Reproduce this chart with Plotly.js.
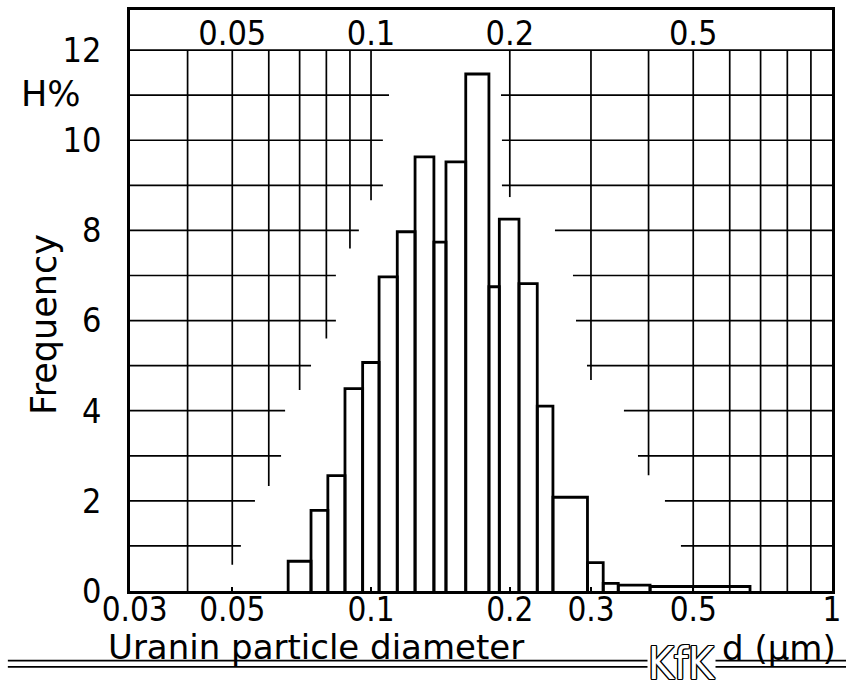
<!DOCTYPE html>
<html>
<head>
<meta charset="utf-8">
<script src="https://cdn.plot.ly/plotly-3.0.1.min.js"></script>
<style>html,body{margin:0;padding:0;background:#fff;}</style>
</head>
<body>
<div id="chart" style="width:846px;height:687px;"></div>
<script>
// Histogram bin edges (µm) and frequencies (%)
var binEdges = [0.0661,0.0741,0.0806,0.0878,0.0959,0.1041,0.1140,0.1246,0.1369,0.1454,0.1605,0.1802,0.1898,0.2094,0.2294,0.2481,0.2948,0.3189,0.3438,0.403,0.664];
var freq = [0.66,1.79,2.56,4.49,5.07,6.97,7.97,9.63,7.74,9.52,11.47,6.75,8.25,6.82,4.10,2.08,0.63,0.17,0.13,0.10];

// Tick labels
var xTickVals = [0.03,0.05,0.1,0.2,0.3,0.5,1];
var xTickText = ['\u00a00.03','0.05','0.1','0.2','0.3','0.5','1'];
var topTickVals = [0.05,0.1,0.2,0.5];
var topTickText = ['0.05','0.1','0.2','0.5'];
var yTickVals = [0,2,4,6,8,10,12];

// Partial grid: vertical lines (from 12 down to given value)
var vGridX = [0.04,0.05,0.06,0.07,0.08,0.09,0.1,0.2,0.3,0.4,0.5,0.6,0.7,0.8,0.9];
var vGridBottom = [0,0.58,2.33,4.46,5.6,7.6,8.67,8.74,4.68,2.57,0,0,0,0,0];
// Horizontal lines: left part ends at hLeftEnd, right part starts at hRightStart
var hGridY = [1,2,3,4,5,6,7,8,9,10,11];
var hLeftEnd = [0.0522,0.0560,0.0638,0.0651,0.0741,0.0839,0.0839,0.0941,0.1061,0.1061,0.1094];
var hRightStart = [0.4702,0.4341,0.3794,0.3537,0.2941,0.2784,0.2742,0.2506,0.1923,0.1923,0.1914];

var xMin = 0.03, xMax = 1, yBand = 12, yTop = 12.89;

var gx = [], gy = [];
for (var i = 0; i < vGridX.length; i++) {
  gx.push(vGridX[i], vGridX[i], null);
  gy.push(yBand, vGridBottom[i], null);
}
for (var j = 0; j < hGridY.length; j++) {
  gx.push(xMin, hLeftEnd[j], null);
  gy.push(hGridY[j], hGridY[j], null);
  gx.push(hRightStart[j], xMax, null);
  gy.push(hGridY[j], hGridY[j], null);
}
gx.push(xMin, xMax, null);
gy.push(yBand, yBand, null);

var bx = [], by = [];
for (var k = 0; k < freq.length; k++) {
  bx.push(binEdges[k], binEdges[k], binEdges[k+1], binEdges[k+1], null);
  by.push(0, freq[k], freq[k], 0, null);
}

var narrow = 'Liberation Sans Narrow, DejaVu Sans Condensed, sans-serif';
var wide = 'DejaVu Sans, sans-serif';

var traces = [
  {x: gx, y: gy, mode: 'lines', line: {color: '#000', width: 1.7}, hoverinfo: 'skip', showlegend: false, cliponaxis: false},
  {x: bx, y: by, mode: 'lines', line: {color: '#000', width: 2.8}, hoverinfo: 'skip', showlegend: false, cliponaxis: false},
  {x: topTickVals, y: topTickVals.map(function(){return 12.3;}), mode: 'text', text: topTickText,
   textfont: {family: narrow, size: 34, color: '#000'}, textposition: 'middle center', hoverinfo: 'skip', showlegend: false}
];

var layout = {
  width: 846, height: 687,
  margin: {l: 130, r: 14, t: 10, b: 96},
  paper_bgcolor: '#fff', plot_bgcolor: '#fff',
  showlegend: false,
  xaxis: {
    type: 'log', range: [Math.log10(xMin), Math.log10(xMax)],
    showgrid: false, zeroline: false,
    showline: true, linecolor: '#000', linewidth: 2.8, mirror: true,
    ticks: 'inside', ticklen: 4, tickwidth: 2, tickcolor: '#000',
    tickvals: xTickVals, ticktext: xTickText,
    tickfont: {family: narrow, size: 33, color: '#000'},
    ticklabelstandoff: -12
  },
  yaxis: {
    range: [0, yTop],
    showgrid: false, zeroline: false,
    showline: true, linecolor: '#000', linewidth: 2.8, mirror: true,
    ticks: '', tickvals: yTickVals,
    tickfont: {family: narrow, size: 34, color: '#000'},
    ticklabelstandoff: 19
  },
  shapes: [
    {type: 'line', xref: 'paper', yref: 'paper', x0: -0.174, x1: 1.02, y0: -0.12, y1: -0.12, line: {color: '#000', width: 1.8}},
    {type: 'line', xref: 'paper', yref: 'paper', x0: -0.174, x1: 1.02, y0: -0.1305, y1: -0.1305, line: {color: '#000', width: 1.8}}
  ],
  annotations: [
    {text: 'H%', xref: 'paper', yref: 'paper', x: -0.1125, y: 0.855, showarrow: false,
     xanchor: 'center', yanchor: 'middle', font: {family: wide, size: 35, color: '#000'}},
    {text: 'Frequency', xref: 'paper', yref: 'paper', x: -0.1225, y: 0.458, showarrow: false, textangle: -90,
     xanchor: 'center', yanchor: 'middle', font: {family: wide, size: 35, color: '#000'}},
    {text: 'Uranin particle diameter', xref: 'paper', yref: 'paper', x: -0.0342, y: -0.097, showarrow: false,
     xanchor: 'left', yanchor: 'middle', font: {family: wide, size: 34, color: '#000'}},
    {text: 'd (μm)', xref: 'paper', yref: 'paper', x: 0.8405, y: -0.0977, showarrow: false,
     xanchor: 'left', yanchor: 'middle', font: {family: wide, size: 34, color: '#000'}},
    {text: 'KfK', xref: 'paper', yref: 'paper', x: 0.786, y: -0.124, showarrow: false,
     xanchor: 'center', yanchor: 'middle', bgcolor: '#fff', borderpad: 0,
     font: {family: narrow, size: 44, color: '#fff',
            shadow: '1.3px 0 0 #000, -1.3px 0 0 #000, 0 1.3px 0 #000, 0 -1.3px 0 #000, 1px 1px 0 #000, -1px -1px 0 #000, 1px -1px 0 #000, -1px 1px 0 #000'}}
  ]
};

Plotly.newPlot('chart', traces, layout, {displayModeBar: false, staticPlot: true});
</script>
</body>
</html>
